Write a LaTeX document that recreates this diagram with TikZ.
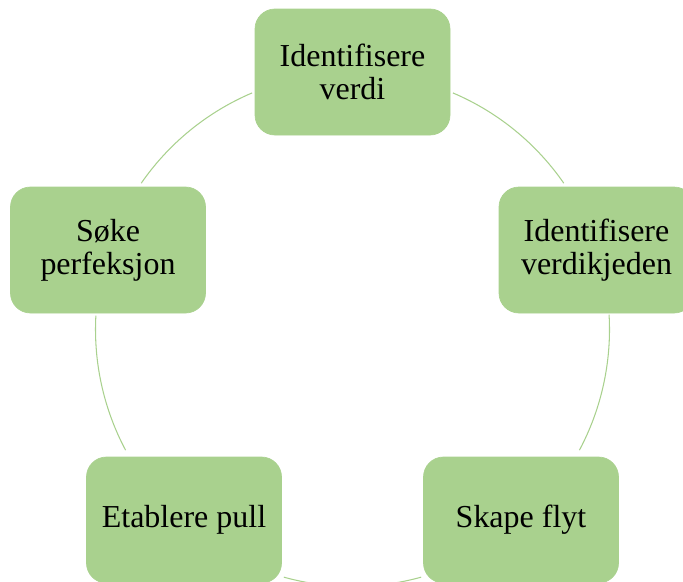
\documentclass[tikz,border=0pt]{standalone}
\usepackage{fontspec}
\setmainfont{Liberation Serif}
\definecolor{leafgreen}{HTML}{A9D18E}
\tikzset{
  stage/.style={draw=leafgreen, fill=leafgreen, rounded corners=0.4cm,
    minimum width=3.9cm, minimum height=2.52cm, align=center,
    font=\fontsize{18.2}{18.8}\selectfont, text=black},
  ring/.style={draw=leafgreen, line width=0.6pt}
}
\begin{document}
\begin{tikzpicture}
    % Cycle parameters
    \def\rad{5.14} % radius of the ring
    \useasboundingbox (0,0) rectangle (13.66,11.62);

    % Centre of the ring
    \coordinate (c) at (7.05,5.03);

    % Stages of the cycle
    \node[stage] (verdi) at (7.05,10.18) {Identifisere\\verdi};
    \node[stage] (kjede) at (11.93,6.62) {Identifisere\\verdikjeden};
    \node[stage] (flyt) at (10.42,1.22) {Skape flyt};
    \node[stage] (pull) at (3.68,1.22) {Etablere pull};
    \node[stage] (perf) at (2.16,6.62) {Søke\\perfeksjon};

    % Arcs between the stages
    \draw[ring] ([shift={(67:\rad)}]c) arc[start angle=67, end angle=34.7, radius=\rad];
    \draw[ring] ([shift={(3.3:\rad)}]c) arc[start angle=3.3, end angle=-28, radius=\rad];
    \draw[ring] ([shift={(-74.5:\rad)}]c) arc[start angle=-74.5, end angle=-105.5, radius=\rad];
    \draw[ring] ([shift={(208:\rad)}]c) arc[start angle=208, end angle=176.9, radius=\rad];
    \draw[ring] ([shift={(145.3:\rad)}]c) arc[start angle=145.3, end angle=113, radius=\rad];
\end{tikzpicture}
\end{document}
